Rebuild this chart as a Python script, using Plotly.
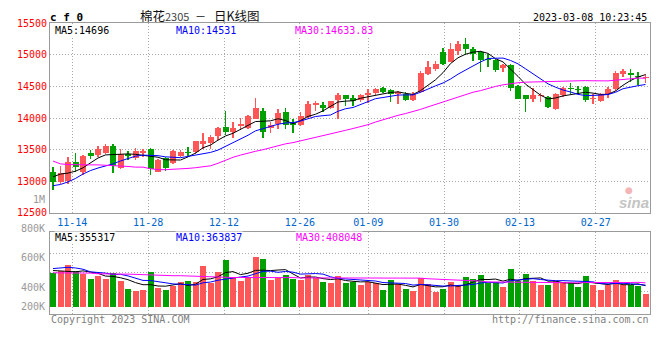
import pandas as pd
import plotly.graph_objects as go

# ---------------- data ----------------
holidays = ["2023-01-02", "2023-01-23", "2023-01-24", "2023-01-25", "2023-01-26", "2023-01-27"]
dates = [d for d in pd.bdate_range("2022-11-09", "2023-03-08") if d.strftime("%Y-%m-%d") not in holidays]
date_lbl = [d.strftime("%m-%d") for d in dates]

opens = [13143, 12985, 13005, 13311, 13150, 13449, 13418, 13449, 13556, 13204,
         13439, 13367, 13444, 13510, 13153, 13362, 13291, 13393, 13459, 13459,
         13592, 13607, 13714, 13862, 13786, 13878, 13837, 13990, 14107, 13837,
         13903, 14092, 13929, 13898, 14015, 14204, 14214, 14163, 14281, 14362,
         14325, 14285, 14360, 14400, 14475, 14445, 14385, 14385, 14285, 14415,
         14700, 14775, 15040, 14890, 15060, 15180, 15090, 15050, 14940, 14915,
         14790, 14840, 14510, 14365, 14300, 14350, 14340, 14150, 14360, 14470,
         14465, 14500, 14300, 14265, 14385, 14465, 14700, 14715, 14665, 14635]
highs = [13219, 13250, 13388, 13449, 13420, 13490, 13551, 13597, 13597, 13515,
         13485, 13520, 13515, 13520, 13357, 13388, 13500, 13490, 13541, 13640,
         13760, 13735, 13862, 14107, 13939, 14005, 14056, 14321, 14153, 13939,
         14148, 14158, 13990, 14102, 14270, 14270, 14260, 14270, 14398, 14370,
         14365, 14385, 14460, 14485, 14490, 14460, 14435, 14415, 14415, 14750,
         14900, 14910, 15115, 15185, 15225, 15275, 15125, 15065, 15015, 14940,
         14860, 14865, 14520, 14370, 14475, 14400, 14350, 14400, 14490, 14550,
         14515, 14515, 14375, 14400, 14490, 14740, 14775, 14775, 14725, 14700]
lows = [12857, 12959, 12959, 13143, 13100, 13352, 13378, 13429, 13133, 13188,
        13337, 13332, 13388, 13092, 13143, 13168, 13276, 13378, 13378, 13439,
        13505, 13505, 13648, 13735, 13684, 13811, 13827, 13985, 13684, 13760,
        13822, 13822, 13760, 13872, 14000, 14107, 14102, 14143, 13990, 14194,
        14185, 14250, 14235, 14365, 14400, 14250, 14225, 14275, 14265, 14400,
        14685, 14750, 14835, 14885, 15000, 15000, 14900, 14725, 14815, 14735,
        14725, 14435, 14300, 14090, 14250, 14260, 14160, 14135, 14340, 14375,
        14385, 14250, 14225, 14250, 14325, 14425, 14650, 14575, 14525, 14560]
closes = [12995, 13138, 13311, 13224, 13400, 13393, 13515, 13556, 13250, 13439,
          13408, 13480, 13480, 13199, 13337, 13209, 13480, 13459, 13449, 13633,
          13633, 13694, 13847, 13781, 13847, 13913, 14036, 14153, 13786, 13898,
          14077, 13898, 13898, 14036, 14230, 14245, 14168, 14265, 14372, 14296,
          14275, 14365, 14400, 14465, 14415, 14385, 14415, 14285, 14375, 14715,
          14810, 14850, 14850, 15090, 15180, 15090, 15015, 14915, 14925, 14760,
          14835, 14475, 14310, 14310, 14360, 14365, 14175, 14385, 14475, 14455,
          14450, 14285, 14315, 14375, 14460, 14715, 14740, 14685, 14655, 14650]
volumes = [575000, 614000, 701000, 603000, 548000, 466000, 515000, 466000, 575000, 433000,
           301000, 269000, 285000, 581000, 318000, 285000, 351000, 416000, 433000, 416000,
           696000, 400000, 597000, 792000, 493000, 444000, 510000, 844000, 806000, 460000,
           493000, 543000, 477000, 460000, 543000, 493000, 411000, 395000, 526000, 395000,
           427000, 362000, 411000, 395000, 279000, 460000, 378000, 296000, 263000, 493000,
           378000, 249000, 307000, 416000, 373000, 510000, 477000, 543000, 400000, 416000,
           334000, 641000, 438000, 559000, 438000, 367000, 367000, 444000, 416000, 395000,
           334000, 515000, 373000, 285000, 373000, 460000, 373000, 373000, 356000, 219000]

# moving-average values before enough bars are on screen
ma5_head = [13070, 13115, 13130, 13160]
ma10_head = [12930, 12950, 12990, 13045, 13115, 13170, 13210, 13240, 13275]
ma30_head = [13320, 13276, 13265, 13260, 13260, 13260, 13260, 13255, 13255, 13245,
             13235, 13224, 13224, 13199, 13184, 13184, 13189, 13189, 13204, 13215,
             13225, 13245, 13285, 13335, 13380, 13415, 13450, 13475, 13500]
vma5_head = [614000, 608000, 603000, 592000]
vma10_head = [647000, 658000, 669000, 658000, 636000, 592000, 586000, 570000, 548000]
vma30_head = [575000, 575000, 575000, 575000, 575000, 570000, 559000, 553000, 553000, 553000,
              553000, 548000, 537000, 532000, 526000, 526000, 526000, 526000, 521000, 510000,
              510000, 504000, 504000, 495000, 495000, 495000, 495000, 495000, 495000]

tick_dates = ["11-14", "11-28", "12-12", "12-26", "01-09", "01-30", "02-13", "02-27"]
price_ticks = [12500, 13000, 13500, 14000, 14500, 15000, 15500]
vol_labels = ["800K", "600K", "400K", "200K"]

title_code = "c f 0"
title_name = "棉花2305"
title_kind = "日K线图"
timestamp = "2023-03-08 10:23:45"
ma_text = ["MA5:14696", "MA10:14531", "MA30:14633.83"]
vma_text = ["MA5:355317", "MA10:363837", "MA30:408048"]

# ---------------- helpers ----------------
def moving(vals, n, head):
    out = []
    for i in range(len(vals)):
        if i < n - 1:
            out.append(head[i])
        else:
            out.append(sum(vals[i - n + 1:i + 1]) / n)
    return out

N = len(closes)
xs = list(range(N))
RED, GREEN = "#FF5757", "#00A000"
cols = [RED if c >= o else GREEN for o, c in zip(opens, closes)]
body_base = [min(o, c) for o, c in zip(opens, closes)]
body_h = [max(abs(c - o), 14) for o, c in zip(opens, closes)]
wick_h = [h - l for h, l in zip(highs, lows)]

W, H = 660, 360
PX = lambda x: x / W
PY = lambda y: 1 - y / H
MONO = "DejaVu Sans Mono"

fig = go.Figure()
fig.add_trace(go.Bar(x=xs, y=wick_h, base=lows, width=0.14, marker=dict(color=cols, line=dict(width=0)),
                     xaxis="x", yaxis="y", hoverinfo="skip"))
fig.add_trace(go.Bar(x=xs, y=body_h, base=body_base, width=0.8, marker=dict(color=cols, line=dict(width=0)),
                     xaxis="x", yaxis="y", hoverinfo="skip"))
for n, head, c in [(5, ma5_head, "black"), (10, ma10_head, "#0000FF"), (30, ma30_head, "#FF00FF")]:
    fig.add_trace(go.Scatter(x=xs, y=moving(closes, n, head), mode="lines",
                             line=dict(color=c, width=1), xaxis="x", yaxis="y", hoverinfo="skip"))
fig.add_trace(go.Bar(x=xs, y=volumes, width=0.8, marker=dict(color=cols, line=dict(width=0)),
                     xaxis="x2", yaxis="y2", hoverinfo="skip"))
for n, head, c in [(5, vma5_head, "black"), (10, vma10_head, "#0000FF"), (30, vma30_head, "#FF00FF")]:
    fig.add_trace(go.Scatter(x=xs, y=moving(volumes, n, head), mode="lines",
                             line=dict(color=c, width=1), xaxis="x2", yaxis="y2", hoverinfo="skip"))

tick_idx = [date_lbl.index(t) for t in tick_dates]
tick_pos = [i * 1.0117 - 0.465 for i in tick_idx]

GRID = "#A8A8A8"
FRAME = "#9A9A9A"
DOT = "1px,2px"
xdom = [PX(50), PX(650)]
common_x = dict(domain=xdom, range=[-0.4, 79.6], tickmode="array", tickvals=tick_pos,
                showgrid=True, gridcolor=GRID, griddash=DOT, gridwidth=1, zeroline=False,
                showline=True, linecolor=FRAME, linewidth=1, mirror=True, ticks="", fixedrange=True)

fig.update_layout(
    width=W, height=H, margin=dict(l=0, r=0, t=0, b=0),
    paper_bgcolor="white", plot_bgcolor="white", showlegend=False, barmode="overlay", bargap=0,
    xaxis=dict(common_x, anchor="y", ticktext=tick_dates,
               tickfont=dict(family=MONO, size=10, color="#0066CC"), ticklabelstandoff=0),
    yaxis=dict(domain=[PY(214), PY(18)], range=[12500, 15500], tickmode="array", tickvals=price_ticks,
               ticktext=[str(v) for v in price_ticks], tickfont=dict(family=MONO, size=10, color="#FF0000"),
               showgrid=True, gridcolor=GRID, griddash=DOT, zeroline=False, showline=True, linecolor=FRAME,
               mirror=True, ticks="", ticklabelstandoff=0, anchor="x", fixedrange=True),
    xaxis2=dict(common_x, anchor="y2", showticklabels=False),
    yaxis2=dict(domain=[PY(318.3), PY(234.3)], range=[-120000, 1261000], tickmode="array",
                tickvals=[251500, 580000, 909000], showticklabels=False, showgrid=True, gridcolor=GRID,
                griddash=DOT, zeroline=False, showline=True, linecolor=FRAME, mirror=True, ticks="",
                anchor="x2", fixedrange=True),
)

ann = []
def text(x, y, s, anchor="left", color="black", size=10, family=MONO, bg=None, **kw):
    d = dict(x=PX(x), y=PY(y), xref="paper", yref="paper", text=s, showarrow=False,
             xanchor=anchor, yanchor="middle", borderpad=0,
             font=dict(family=family, size=size, color=color))
    if bg:
        d["bgcolor"] = bg
    d.update(kw)
    ann.append(d)

text(49, 11.5, "<b>" + title_code + "</b>", size=11)
text(139, 10, title_name.replace("2305", "<span style='font-size:11px;color:#444'>2305</span>"),
     family="Noto Sans CJK SC", size=12.5, color="#111")
text(200.5, 10, "－", anchor="center", family="Noto Sans CJK SC", size=11, color="#111")
text(213, 10, title_kind, family="Noto Sans CJK SC", size=12.5, color="#111")
text(648, 11.5, timestamp, anchor="right")
ma_cols = ["black", "#0000FF", "#FF00FF"]
for x0, s, c in zip([54, 175, 294], ma_text, ma_cols):
    text(x0, 25, s, color=c, bg="white")
for x0, s, c in zip([54, 175, 295], vma_text, ma_cols):
    text(x0, 239, s, color=c, bg="white")
for yv, s in zip([230, 260.3, 291, 311], vol_labels):
    text(46, yv, s, anchor="right", color="#999999")
text(45.5, 200, "1M", anchor="right", color="#999999")
text(50, 324, "Copyright 2023 SINA.COM", color="#808080")
text(649.5, 324, "http://finance.sina.com.cn", anchor="right", color="#808080")
text(650, 203, "<b><i>sina</i></b>", anchor="right", color="#C4C4C4", size=15, family="Liberation Sans")
text(629, 190, "●", anchor="center", color="#F3B5B5", size=9, family="DejaVu Sans")
fig.update_layout(annotations=ann)

fig.write_html("out.html", config={"displayModeBar": False, "staticPlot": True},
               post_script="document.body.style.margin='0px';document.body.style.padding='0px';")
